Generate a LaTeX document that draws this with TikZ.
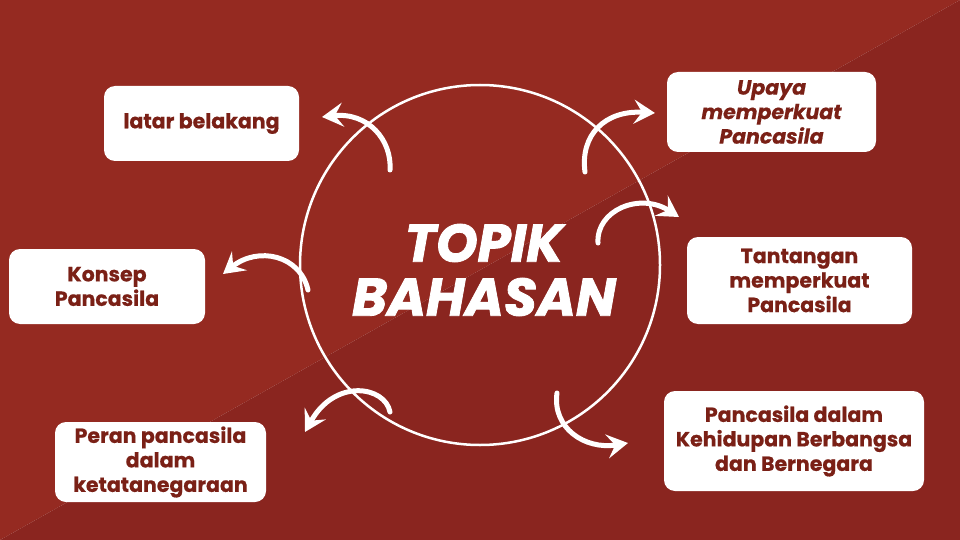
\documentclass[tikz,border=0pt]{standalone}
\usepackage{fontspec}
\setmainfont{Poppins}
\newfontfamily\boxfont{Poppins}[FakeBold=0.6]
\newfontfamily\titlefont{Poppins}[FakeBold=1.6]
\usetikzlibrary{arrows.meta}
\definecolor{bgtop}{HTML}{952A21}
\definecolor{bgbot}{HTML}{8A251F}
\definecolor{txtred}{HTML}{7A2016}
\tikzset{
  topicbox/.style={fill=white, rounded corners=11pt, text=txtred, align=center,
    font=\boxfont\bfseries\fontsize{20.5}{24.5}\selectfont, inner sep=0pt},
  swoop/.style={white, line width=5pt, line cap=round,
    -{Stealth[length=21pt, width=24pt, inset=8pt]}}
}
\begin{document}
\begin{tikzpicture}[x=1pt,y=-1pt]
   \useasboundingbox (0,0) rectangle (960,540);
   \fill[bgtop] (0,0) -- (960,0) -- (0,540) -- cycle;
   \fill[bgbot] (960,0) -- (960,540) -- (0,540) -- cycle;

   % ring and title
   \node[draw=white, line width=2.5pt, circle, minimum size=360pt, inner sep=0pt] (ring) at (480,265) {};
   \node[text=white, align=center, font=\titlefont\bfseries\itshape\fontsize{53}{54}\selectfont] (topik) at (484,270) {TOPIK\\BAHASAN};

   % topics
   \node[topicbox, minimum width=195pt, minimum height=75pt] (latar) at (201.5,123.5) {latar belakang};
   \node[topicbox, minimum width=196pt, minimum height=75pt] (konsep) at (107,286.5) {Konsep\\Pancasila};
   \node[topicbox, minimum width=211pt, minimum height=80pt] (peran) at (160.5,462) {Peran pancasila\\dalam\\ketatanegaraan};
   \node[topicbox, minimum width=209pt, minimum height=80pt, font=\boxfont\bfseries\itshape\fontsize{20.5}{24.5}\selectfont] (upaya) at (771.5,112) {Upaya\\memperkuat\\Pancasila};
   \node[topicbox, minimum width=225pt, minimum height=87pt] (tantangan) at (799.5,280.5) {Tantangan\\memperkuat\\Pancasila};
   \node[topicbox, minimum width=260pt, minimum height=100pt] (hidup) at (794,441) {Pancasila dalam\\Kehidupan Berbangsa\\dan Bernegara};

   % arrow ends
   \coordinate (t1) at (390,170);  \coordinate (h1) at (322,117);
   \coordinate (t2) at (585,172);  \coordinate (h2) at (655,113);
   \coordinate (t3) at (598,243);  \coordinate (h3) at (679,217);
   \coordinate (t4) at (308,290);  \coordinate (h4) at (223,274);
   \coordinate (t5) at (390,412);  \coordinate (h5) at (305,432);
   \coordinate (t6) at (557,393);  \coordinate (h6) at (628,443);

   \draw[swoop] (t1) .. controls (392,140) and (368,112) .. (h1);
   \draw[swoop] (t2) .. controls (580,135) and (605,110) .. (h2);
   \draw[swoop] (t3) .. controls (596,210) and (640,192) .. (h3);
   \draw[swoop] (t4) .. controls (300,255) and (258,246) .. (h4);
   \draw[swoop] (t5) .. controls (385,386) and (335,378) .. (h5);
   \draw[swoop] (t6) .. controls (552,428) and (585,450) .. (h6);
\end{tikzpicture}
\end{document}
